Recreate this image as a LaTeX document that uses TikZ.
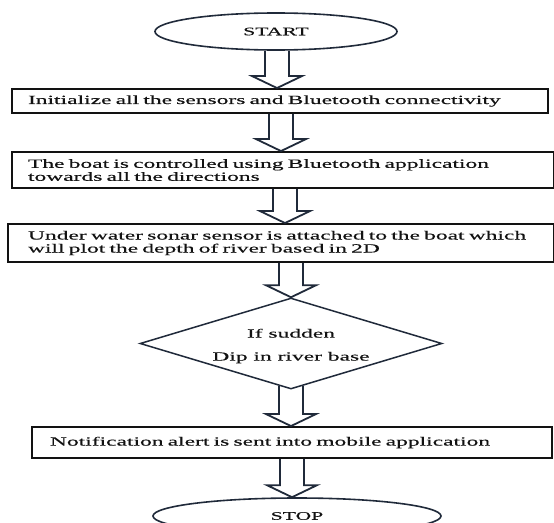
\documentclass[tikz,border=0pt]{standalone}
\usepackage{fontspec}
\setmainfont{Liberation Serif}
\newfontfamily\wideserif[FakeStretch=1.88,FakeBold=0.3]{Liberation Serif}
\usetikzlibrary{shapes.geometric,calc}
\definecolor{navy}{RGB}{32,42,58}
\definecolor{ink}{RGB}{18,18,18}
\begin{document}
\begin{tikzpicture}[x=1pt,y=-1pt,
  box/.style={draw=ink, line width=1.9pt, rectangle, inner ysep=0pt, align=left,
    font=\wideserif\fontsize{12.5}{13}\selectfont, text=ink},
  term/.style={ellipse, draw=navy, line width=1.6pt, inner sep=0pt, text=ink,
    font=\wideserif\fontsize{11.5}{13}\selectfont},
  decision/.style={diamond, draw=navy, line width=1.5pt, inner sep=0pt},
  dectext/.style={align=center, text=ink, font=\wideserif\fontsize{12.5}{13}\selectfont},
  hollow/.style={draw=navy, line width=1.8pt, line join=miter,
    to path={let \p1=(\tikztostart), \p2=(\tikztotarget) in
      (\x1-12pt,\y1) -- (\x1-12pt,\y2+12pt) -- (\x1-25pt,\y2+12pt) -- (\x1,\y2)
      -- (\x1+25pt,\y2+12pt) -- (\x1+12pt,\y2+12pt) -- (\x1+12pt,\y1)}}
]
\useasboundingbox (0,0) rectangle (554,522);
\clip (0,0) rectangle (554,522);

\node[term, minimum width=242pt, minimum height=37pt] (start) at (276,31.5) {START};

\node[box, minimum width=536pt, minimum height=24pt, inner xsep=16pt, text width=504pt]
  (init) at (280,101) {\mbox{Initialize all the sensors and Bluetooth connectivity}};

\node[box, minimum width=542pt, minimum height=36pt, inner xsep=16pt, text width=510pt]
  (ctrl) at (283,170) {\mbox{The boat is controlled using Bluetooth application}\\\mbox{towards all the directions}};

\node[box, minimum width=546pt, minimum height=38pt, inner xsep=20pt, text width=506pt]
  (sonar) at (281,243) {\mbox{Under water sonar sensor is attached to the boat which}\\\mbox{will plot the depth of river based in 2D}};

\node[decision, minimum width=302pt, minimum height=91pt] (dec) at (291,343.5) {};
\node[dectext] (dectxt) at (291,346) {If sudden\\[10pt]Dip in river base};

\node[box, minimum width=520pt, minimum height=31pt, inner xsep=18pt, text width=484pt]
  (notif) at (292,442.5) {\mbox{Notification alert is sent into mobile application}};

\node[term, minimum width=288pt, minimum height=36pt] (stop) at (297,516) {STOP};

\draw[hollow] ([xshift=1pt]start.south) to (init.north);
\draw[hollow] ([xshift=1pt]init.south) to (ctrl.north);
\draw[hollow] ([xshift=2pt]ctrl.south) to (sonar.north);
\draw[hollow] ([xshift=10pt]sonar.south) to (dec.north);
\draw[hollow] ([yshift=4pt]dec.south) to (notif.north);
\draw[hollow] ([xshift=0pt]notif.south) to (stop.north);
\end{tikzpicture}
\end{document}
